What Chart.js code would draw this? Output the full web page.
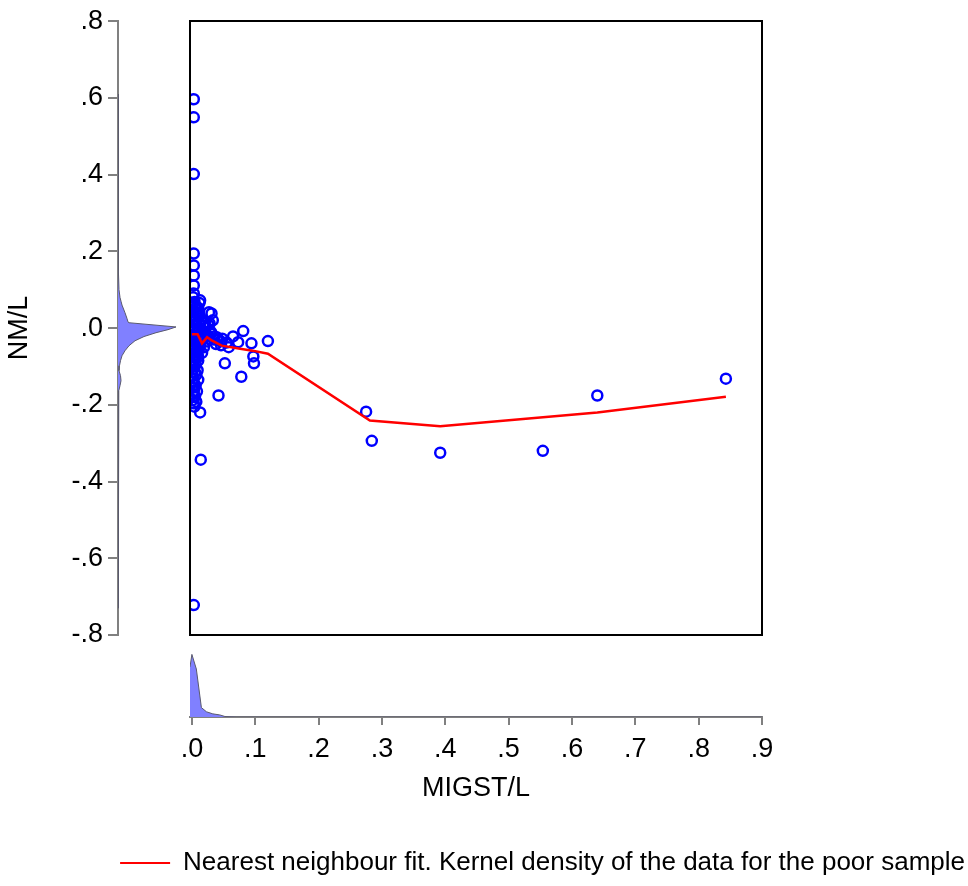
<!DOCTYPE html>
<html>
<head>
<meta charset="utf-8">
<script src="https://cdn.jsdelivr.net/npm/chart.js@4.4.1/dist/chart.umd.min.js"></script>
<style>
  body { margin: 0; background: #fff; }
  #wrap { position: relative; width: 968px; height: 886px; }
  #wrap canvas { position: absolute; left: 0; top: 0; }
</style>
</head>
<body>
<div id="wrap">
  <canvas id="leftDens" width="968" height="886"></canvas>
  <canvas id="bottomDens" width="968" height="886"></canvas>
  <canvas id="scatter" width="968" height="886"></canvas>
</div>
<script>
// scatter points: MIGST/L (x) vs NM/L (y)
const ptX = [
  0.003, 0.003, 0.003, 0.003, 0.003, 0.003, 0.003, 0.003, 0.013, 0.027,
  0.028, 0.031, 0.033, 0.081, 0.065, 0.073, 0.094, 0.120, 0.097, 0.098,
  0.052, 0.078, 0.042, 0.013, 0.014, 0.003, 0.275, 0.284, 0.392, 0.554,
  0.640, 0.843,
  0.002, 0.004, 0.001, 0.005, 0.002, 0.006, 0.001, 0.004, 0.002, 0.007,
  0.003, 0.001, 0.005, 0.002, 0.008, 0.004, 0.001, 0.006, 0.003, 0.009,
  0.002, 0.005, 0.001, 0.004, 0.002, 0.006, 0.003, 0.001, 0.004, 0.002,
  0.005, 0.001, 0.003, 0.002, 0.004, 0.001, 0.003, 0.002, 0.004, 0.001,
  0.003,
  0.010, 0.012, 0.015, 0.018, 0.011, 0.014, 0.020, 0.022, 0.025, 0.017,
  0.013, 0.019, 0.024, 0.028, 0.030, 0.035, 0.040, 0.045, 0.038, 0.016,
  0.010, 0.008, 0.021, 0.026, 0.012, 0.009,
  0.030, 0.036, 0.042, 0.048, 0.055, 0.046, 0.058,
  0.008, 0.010, 0.007, 0.011, 0.009, 0.012, 0.007, 0.011, 0.008, 0.010,
  0.006, 0.009, 0.007, 0.010, 0.006, 0.008, 0.005, 0.007, 0.004
];
const ptY = [
  0.596, 0.549, 0.401, 0.194, 0.163, 0.137, 0.111, 0.090, 0.072, 0.041,
  0.012, 0.038, 0.020, -0.008, -0.022, -0.037, -0.040, -0.034, -0.074, -0.092,
  -0.092, -0.127, -0.176, -0.220, -0.343, -0.722, -0.218, -0.294, -0.325, -0.320,
  -0.176, -0.132,
  0.080, 0.068, 0.060, 0.052, 0.045, 0.038, 0.030, 0.024, 0.018, 0.012,
  0.006, 0.000, -0.004, -0.010, -0.014, -0.020, -0.026, -0.030, -0.036, -0.040,
  -0.046, -0.052, -0.058, -0.064, -0.072, -0.078, -0.086, -0.094, -0.100, -0.108,
  -0.116, -0.124, -0.132, -0.140, -0.148, -0.156, -0.164, -0.172, -0.180, -0.188,
  -0.196,
  0.050, 0.030, 0.020, 0.005, -0.005, -0.018, -0.012, 0.000, -0.020, -0.030,
  -0.045, -0.050, -0.035, -0.028, -0.015, -0.030, -0.025, -0.035, -0.042, -0.065,
  -0.075, -0.060, 0.015, 0.008, 0.065, 0.040,
  -0.010, -0.022, -0.030, -0.028, -0.038, -0.045, -0.050,
  0.055, 0.035, 0.022, 0.010, -0.002, -0.025, -0.038, -0.056, -0.070, -0.085,
  -0.095, -0.110, -0.122, -0.135, -0.150, -0.165, -0.178, -0.192, -0.205
];

// nearest neighbour fit
const fitX = [0.000, 0.009, 0.016, 0.024, 0.032, 0.047, 0.076, 0.096, 0.120, 0.281, 0.392, 0.640, 0.843];
const fitY = [-0.016, -0.016, -0.040, -0.024, -0.033, -0.046, -0.054, -0.059, -0.067, -0.241, -0.256, -0.220, -0.179];

// kernel density of NM/L (left margin)
const nmVals = [0.61, 0.60, 0.55, 0.40, 0.20, 0.15, 0.10, 0.08, 0.07, 0.06, 0.04, 0.025, 0.016, 0.014,
  0.003, -0.004, -0.012, -0.022, -0.033, -0.046, -0.059, -0.072, -0.085, -0.098, -0.111,
  -0.124, -0.137, -0.150, -0.163, -0.20, -0.35, -0.50, -0.72, -0.73];
const nmDens = [0, 0.05, 0.075, 0.075, 0.125, 0.15, 0.25, 0.5, 0.75, 1.0, 1.75, 2.25, 2.5, 2.75,
  14.5, 12.5, 9.5, 6.5, 4.25, 2.75, 1.75, 1.0, 0.625, 0.375, 0.25,
  0.625, 0.75, 0.5, 0.2, 0.125, 0.1, 0.05, 0.05, 0];

// kernel density of MIGST/L (bottom margin)
const migVals = [-0.003, 0.000, 0.007, 0.015, 0.023, 0.033, 0.044, 0.052, 0.07, 0.9];
const migDens = [24, 30, 23, 4.5, 2.5, 1.5, 1.0, 0.25, 0, 0];

const yTickVals = [-0.8, -0.6, -0.4, -0.2, 0, 0.2, 0.4, 0.6, 0.8];
const yTickLabels = ['-.8', '-.6', '-.4', '-.2', '.0', '.2', '.4', '.6', '.8'];
const xTickVals = [0, 0.1, 0.2, 0.3, 0.4, 0.5, 0.6, 0.7, 0.8, 0.9];
const xTickLabels = ['.0', '.1', '.2', '.3', '.4', '.5', '.6', '.7', '.8', '.9'];

const legendText = 'Nearest neighbour fit. Kernel density of the data for the poor sample';

const fam = "'Liberation Sans', Arial, sans-serif";
const axisFont = { family: fam, size: 27 };
const gray = '#808080';
const densFill = '#8080ff';
const densLine = '#5a5a6e';

const boxPlugin = {
  id: 'box',
  afterDatasetsDraw(chart) {
    const a = chart.chartArea;
    const ctx = chart.ctx;
    ctx.save();
    ctx.strokeStyle = '#000';
    ctx.lineWidth = 2;
    ctx.strokeRect(a.left, a.top, a.right - a.left, a.bottom - a.top);
    ctx.restore();
  }
};

new Chart(document.getElementById('scatter'), {
  type: 'scatter',
  data: {
    datasets: [{
      label: 'fit',
      data: fitX.map((x, i) => ({ x: x, y: fitY[i] })),
      showLine: true,
      borderColor: '#ff0000',
      borderWidth: 2.5,
      pointRadius: 0,
      order: 0,
      clip: 0
    }, {
      label: 'NM/L',
      data: ptX.map((x, i) => ({ x: x, y: ptY[i] })),
      pointStyle: 'circle',
      pointRadius: 5,
      borderColor: '#0000ff',
      borderWidth: 2.5,
      backgroundColor: 'rgba(0,0,0,0)',
      order: 1,
      clip: 0
    }]
  },
  options: {
    responsive: false,
    animation: false,
    layout: { padding: { left: 190, top: 21, right: 206, bottom: 251 } },
    plugins: { legend: { display: false }, tooltip: { enabled: false } },
    scales: {
      x: { type: 'linear', min: -0.003, max: 0.9, display: false },
      y: { type: 'linear', min: -0.8, max: 0.8, display: false }
    }
  },
  plugins: [boxPlugin]
});

new Chart(document.getElementById('leftDens'), {
  type: 'line',
  data: {
    datasets: [{
      data: nmVals.map((v, i) => ({ x: nmDens[i], y: v })),
      indexAxis: 'y',
      fill: 'origin',
      backgroundColor: densFill,
      borderColor: densLine,
      borderWidth: 1,
      pointRadius: 0,
      tension: 0
    }]
  },
  options: {
    responsive: false,
    animation: false,
    indexAxis: 'y',
    layout: { padding: { left: 0, top: 21, right: 778, bottom: 251 } },
    plugins: { legend: { display: false }, tooltip: { enabled: false } },
    scales: {
      x: { type: 'linear', min: 0, max: 18, display: false },
      y: {
        type: 'linear', position: 'left', min: -0.8, max: 0.8,
        afterBuildTicks: s => { s.ticks = yTickVals.map(v => ({ value: v })); },
        afterFit: s => { s.width = 118; },
        ticks: {
          callback: v => yTickLabels[yTickVals.indexOf(v)],
          font: axisFont, color: '#000', padding: 5, autoSkip: false
        },
        grid: { drawOnChartArea: false, tickLength: 10, color: gray, lineWidth: 2 },
        border: { color: gray, width: 2 },
        title: { display: true, text: 'NM/L', font: axisFont, color: '#000', padding: { top: 3, bottom: 0 } }
      }
    }
  }
});

new Chart(document.getElementById('bottomDens'), {
  type: 'line',
  data: {
    datasets: [{
      data: migVals.map((v, i) => ({ x: v, y: migDens[i] })),
      fill: 'origin',
      backgroundColor: densFill,
      borderColor: densLine,
      borderWidth: 1,
      pointRadius: 0,
      tension: 0
    }]
  },
  options: {
    responsive: false,
    animation: false,
    layout: { padding: { left: 0, top: 645, right: 0, bottom: 0 } },
    plugins: {
      tooltip: { enabled: false },
      legend: {
        display: true,
        position: 'bottom',
        align: 'end',
        labels: {
          generateLabels: () => [{
            text: legendText, fillStyle: '#ff0000', strokeStyle: '#ff0000',
            lineWidth: 0, hidden: false, datasetIndex: 0
          }],
          boxWidth: 50, boxHeight: 2, padding: 3,
          font: { family: fam, size: 26 }, color: '#000'
        }
      }
    },
    scales: {
      x: {
        type: 'linear', position: 'bottom', min: -0.003, max: 0.9,
        afterBuildTicks: s => { s.ticks = xTickVals.map(v => ({ value: v })); },
        afterFit: s => { s.height = 130; },
        ticks: {
          callback: v => xTickLabels[xTickVals.indexOf(v)],
          font: axisFont, color: '#000', padding: 8, maxRotation: 0, autoSkip: false
        },
        grid: { drawOnChartArea: false, tickLength: 8, color: gray, lineWidth: 2 },
        border: { color: gray, width: 2 },
        title: { display: true, text: 'MIGST/L', font: axisFont, color: '#000', padding: { top: 0, bottom: 42 } }
      },
      y: {
        type: 'linear', position: 'left', min: 0, max: 34.5,
        afterFit: s => { s.width = 190; },
        ticks: { display: false }, grid: { display: false }, border: { display: false }
      },
      yR: {
        type: 'linear', position: 'right', min: 0, max: 1,
        afterFit: s => { s.width = 206; },
        ticks: { display: false }, grid: { display: false }, border: { display: false }
      }
    }
  }
});
</script>
</body>
</html>
